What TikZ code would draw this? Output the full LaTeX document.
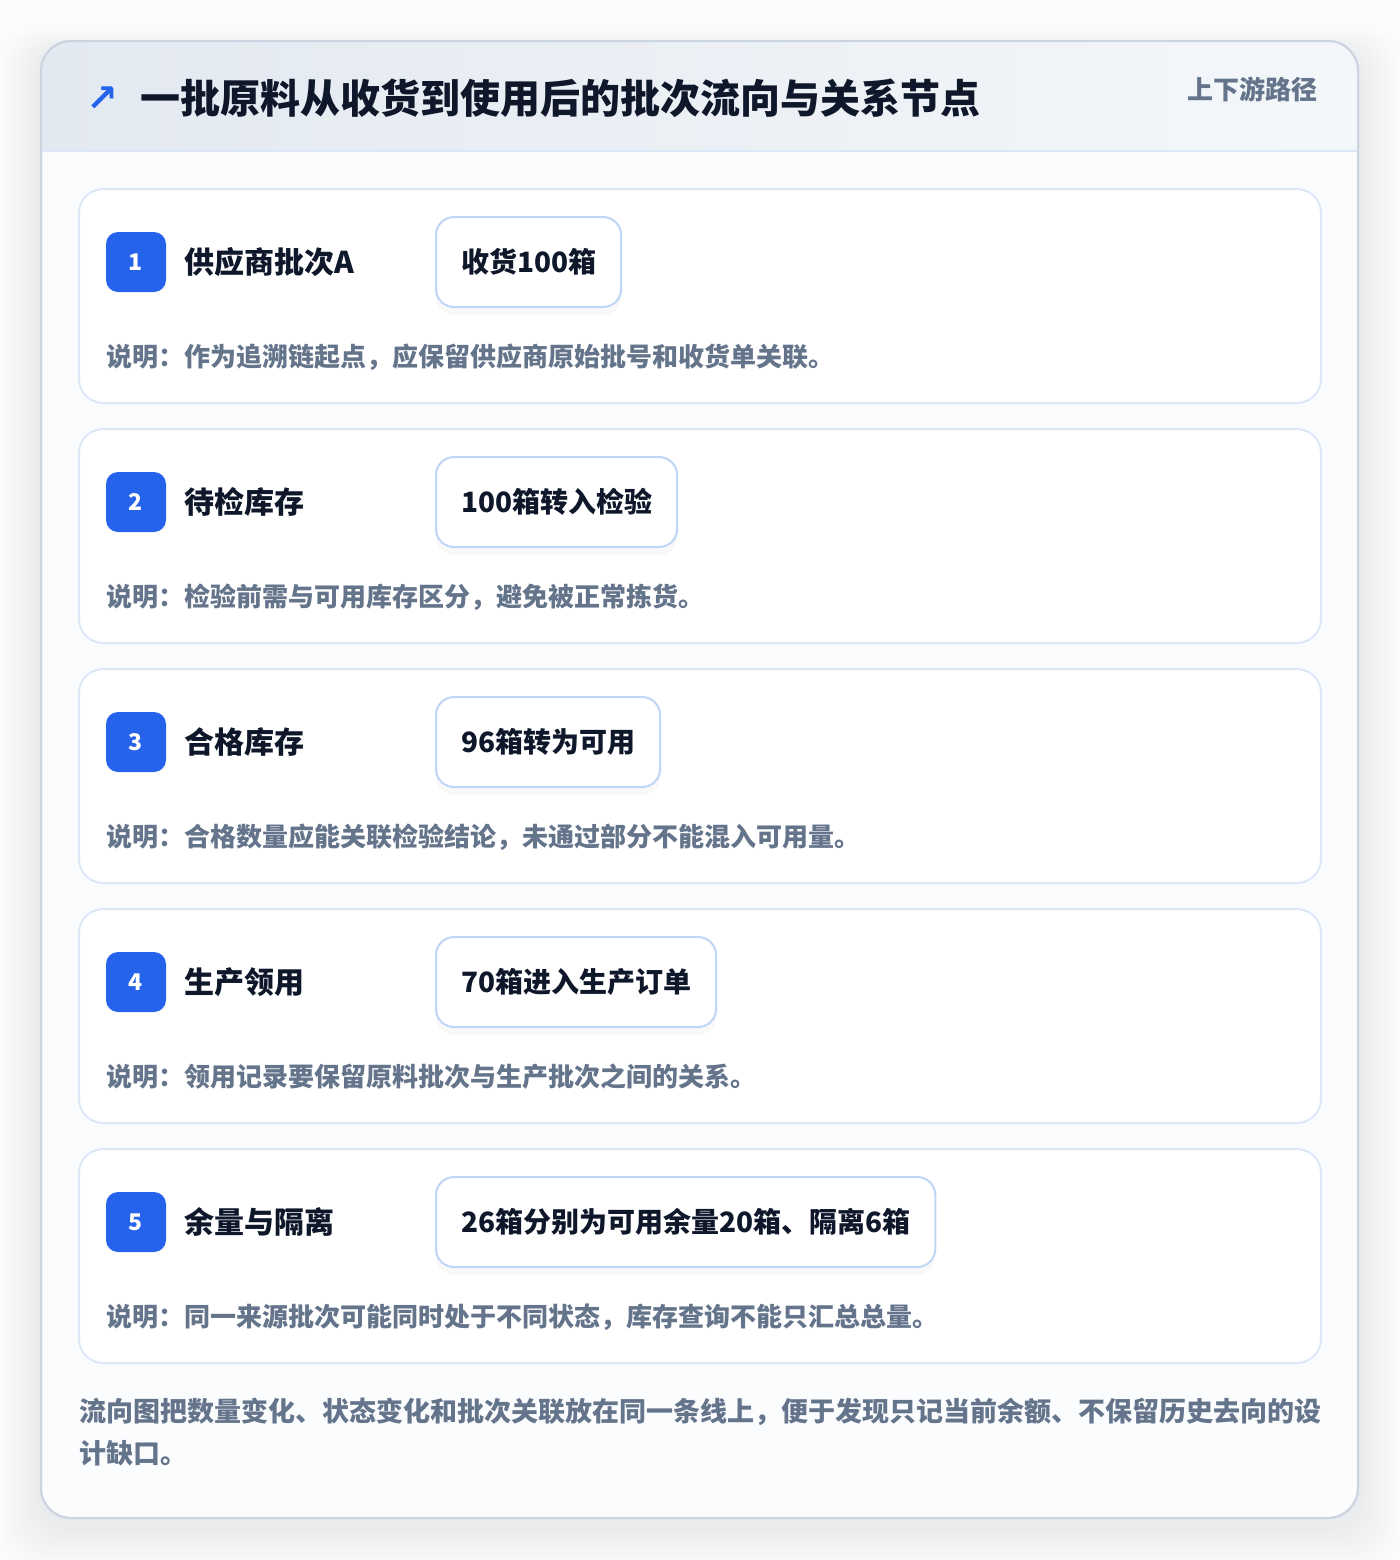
\documentclass[tikz,border=0pt]{standalone}
\usepackage{fontspec}
\setmainfont{Noto Sans CJK SC}
\newfontfamily\symfont{DejaVu Sans}
\usetikzlibrary{positioning,shadows}

\definecolor{pagebg}{HTML}{FAFBFC}
\definecolor{panelfill}{HTML}{FBFCFE}
\definecolor{panelline}{HTML}{CBD5E1}
\definecolor{headleft}{HTML}{E3E9F1}
\definecolor{headright}{HTML}{F4F7FA}
\definecolor{headline}{HTML}{DBE7F6}
\definecolor{stepline}{HTML}{DCE8F8}
\definecolor{pillline}{HTML}{BFD6F6}
\definecolor{accent}{HTML}{2563EB}
\definecolor{ink}{HTML}{0F172A}
\definecolor{muted}{HTML}{64748B}

\begin{document}
\begin{tikzpicture}[x=0.5pt,y=-0.5pt,
  panel/.style={draw=panelline, line width=1pt, fill=panelfill, rounded corners=15pt,
    minimum width=658.5pt, minimum height=738.5pt, inner sep=0pt},
  stepcard/.style={draw=stepline, line width=1pt, fill=white, rounded corners=12pt,
    minimum width=621pt, minimum height=107pt, inner sep=0pt},
  badge/.style={fill=accent, text=white, rounded corners=6pt, minimum size=30pt,
    inner sep=0pt, font=\bfseries\fontsize{11.5}{13}\selectfont},
  steplabel/.style={text=ink, inner sep=0pt, font=\bfseries\fontsize{15}{18}\selectfont},
  pill/.style={draw=pillline, line width=1pt, fill=white, rounded corners=9pt,
    minimum height=45pt, inner xsep=12.5pt, anchor=west, text=ink,
    font=\bfseries\fontsize{14}{17}\selectfont,
    drop shadow={shadow xshift=0pt, shadow yshift=-4pt, opacity=0.05}},
  note/.style={text=muted, inner sep=0pt, anchor=west, font=\bfseries\fontsize{13}{16}\selectfont}]

  % Page and frame
  \useasboundingbox (0,0) rectangle (1400,1560);
  \fill[pagebg] (0,0) rectangle (1400,1560);
  \foreach \s in {1,...,16}
    \fill[black, opacity=0.0045, rounded corners=18pt]
      (41-\s*2.5, 41-\s*1.2+8) rectangle (1358+\s*2.5, 1518+\s*2.5+8);
  \node[panel] (panel) at (699.5,779.5) {};

  % Header band
  \begin{scope}
    \clip[rounded corners=15pt] (41,41) rectangle (1358,1518);
    \shade[left color=headleft, right color=headright] (41,41) rectangle (1358,151);
  \end{scope}
  \draw[headline, line width=1pt] (41,151) -- (1358,151);
  \draw[panelline, line width=1pt, rounded corners=15pt] (41,41) rectangle (1358,1518);

  \node[text=accent, inner sep=0pt, font=\symfont\bfseries\fontsize{19}{19}\selectfont] (icon) at (102,99) {↗};
  \node[text=ink, anchor=west, inner sep=0pt, font=\bfseries\fontsize{20}{24}\selectfont] (title) at (140,98)
    {一批原料从收货到使用后的批次流向与关系节点};
  \node[text=muted, anchor=east, inner sep=0pt, font=\bfseries\fontsize{13}{16}\selectfont] (tag) at (1318,89)
    {上下游路径};

  % Step 1
  \node[stepcard] (card1) at (700,296) {};
  \node[badge] (b1) at (136,262) {1};
  \node[steplabel, right=9pt of b1] (l1) {供应商批次A};
  \node[pill] (p1) at (435,262) {收货100箱};
  \node[note] (n1) at (106,357) {说明：作为追溯链起点，应保留供应商原始批号和收货单关联。};

  % Step 2
  \node[stepcard] (card2) at (700,536) {};
  \node[badge] (b2) at (136,502) {2};
  \node[steplabel, right=9pt of b2] (l2) {待检库存};
  \node[pill] (p2) at (435,502) {100箱转入检验};
  \node[note] (n2) at (106,597) {说明：检验前需与可用库存区分，避免被正常拣货。};

  % Step 3
  \node[stepcard] (card3) at (700,776) {};
  \node[badge] (b3) at (136,742) {3};
  \node[steplabel, right=9pt of b3] (l3) {合格库存};
  \node[pill] (p3) at (435,742) {96箱转为可用};
  \node[note] (n3) at (106,837) {说明：合格数量应能关联检验结论，未通过部分不能混入可用量。};

  % Step 4
  \node[stepcard] (card4) at (700,1016) {};
  \node[badge] (b4) at (136,982) {4};
  \node[steplabel, right=9pt of b4] (l4) {生产领用};
  \node[pill] (p4) at (435,982) {70箱进入生产订单};
  \node[note] (n4) at (106,1077) {说明：领用记录要保留原料批次与生产批次之间的关系。};

  % Step 5
  \node[stepcard] (card5) at (700,1256) {};
  \node[badge] (b5) at (136,1222) {5};
  \node[steplabel, right=9pt of b5] (l5) {余量与隔离};
  \node[pill] (p5) at (435,1222) {26箱分别为可用余量20箱、隔离6箱};
  \node[note] (n5) at (106,1317) {说明：同一来源批次可能同时处于不同状态，库存查询不能只汇总总量。};

  % Closing remark
  \node[text=muted, anchor=north west, inner sep=0pt, align=left,
    font=\bfseries\fontsize{13.5}{21}\selectfont] (remark) at (79,1398)
    {流向图把数量变化、状态变化和批次关联放在同一条线上，便于发现只记当前余额、不保留历史去向的设\\计缺口。};

\end{tikzpicture}
\end{document}
